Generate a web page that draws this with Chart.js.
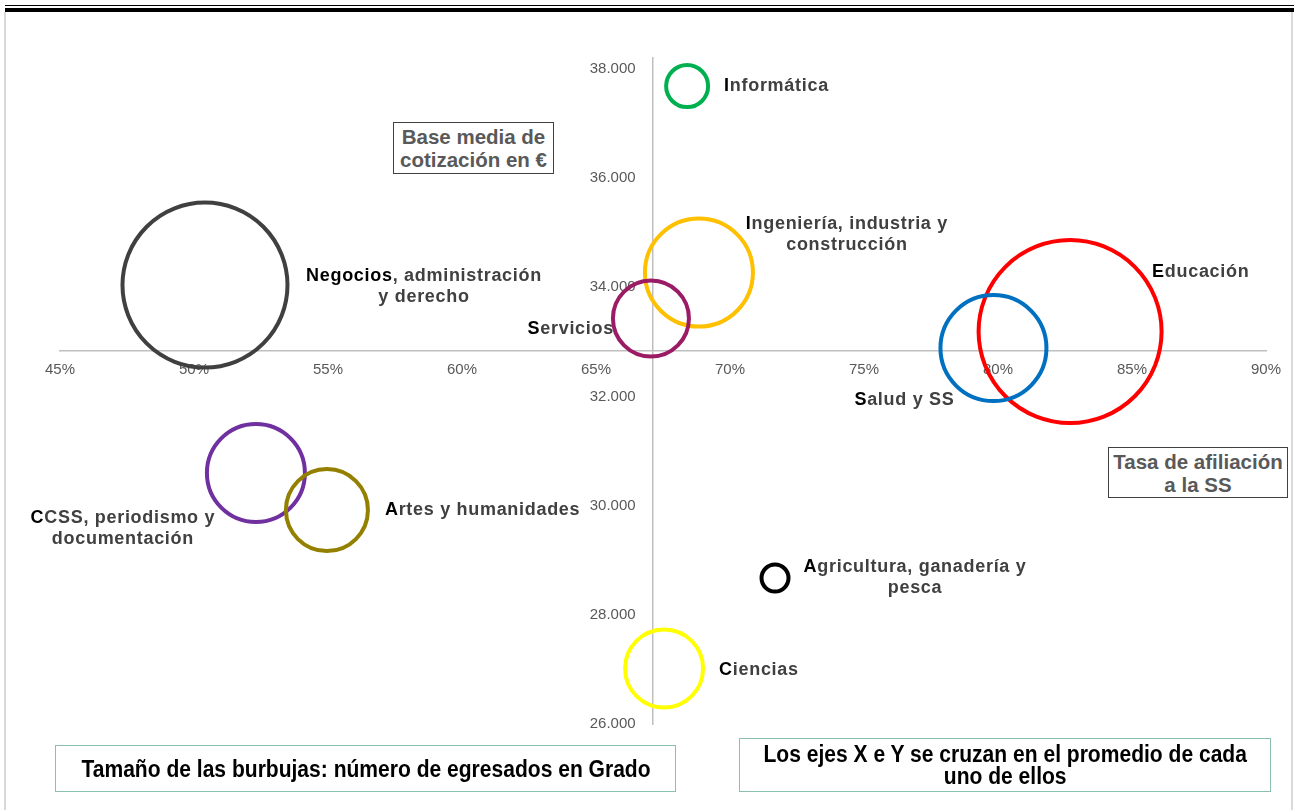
<!DOCTYPE html>
<html lang="es">
<head>
<meta charset="utf-8">
<script src="https://cdn.jsdelivr.net/npm/chart.js@4.4.1/dist/chart.umd.min.js"></script>
<style>
  html, body { margin: 0; padding: 0; background: #fff; }
  #wrap { position: relative; width: 1294px; height: 810px; overflow: hidden; }
  #grafico { position: absolute; left: 0; top: 0; }
  .linea { position: absolute; background: #000; }
  .marco { position: absolute; top: 12px; bottom: 0; width: 2px; background: #d9d9d9; }
  .caja {
    position: absolute; box-sizing: border-box;
    display: flex; align-items: center; justify-content: center; text-align: center;
    font-family: "Liberation Sans", Arial, sans-serif; font-weight: bold;
  }
  .titulo { border: 1px solid #404040; color: #595959; font-size: 20.5px; line-height: 23px; background: #fff; }
  .nota { border: 1px solid #8bbfae; color: #000; font-size: 23px; line-height: 22px; }
  .nota span { display: inline-block; transform: scaleX(0.915); white-space: nowrap; }
</style>
</head>
<body>
<div id="wrap">
  <div class="linea" style="left:5px;top:5px;width:1289px;height:1px"></div>
  <div class="linea" style="left:5px;top:8px;width:1289px;height:4px"></div>
  <div class="marco" style="left:4px"></div>
  <div class="marco" style="left:1291px"></div>
  <canvas id="grafico" width="1294" height="810"></canvas>
  <div class="caja titulo" style="left:393px;top:122px;width:161px;height:52px">Base media de<br>cotización en €</div>
  <div class="caja titulo" style="left:1108px;top:447px;width:180px;height:51px">Tasa de afiliación<br>a la SS</div>
  <div class="caja nota" style="left:55px;top:745px;width:621px;height:47px"><span>Tamaño de las burbujas: número de egresados en Grado</span></div>
  <div class="caja nota" style="left:739px;top:738px;width:532px;height:54px"><span>Los ejes X e Y se cruzan en el promedio de cada<br>uno de ellos</span></div>
</div>
<script>
// datos
const ramas = ['Informática', 'Ingeniería, industria y construcción', 'Servicios',
  'Negocios, administración y derecho', 'Educación', 'Salud y SS',
  'CCSS, periodismo y documentación', 'Artes y humanidades',
  'Agricultura, ganadería y pesca', 'Ciencias'];
const tasaAfiliacion = [68.4, 68.84, 67.05, 50.41, 82.69, 79.83, 52.31, 54.96, 71.68, 67.54];
const baseMedia = [37685, 34269, 33427, 34040, 33189, 32886, 30597, 29919, 28674, 27016];
const tamanoBurbuja = [21, 54, 38, 82.5, 91.5, 53, 49, 41, 13.5, 39];
const promedioX = 67.1;
const promedioY = 32830;
const ticksX = [45, 50, 55, 60, 65, 70, 75, 80, 85, 90];
const ticksY = [26000, 28000, 30000, 32000, 34000, 36000, 38000];

const colores = ['#00b050', '#ffc000', '#9b1c64', '#404040', '#ff0000', '#0070c0',
  '#7030a0', '#948000', '#000000', '#ffff00'];

// textos de las etiquetas (neg = letras iniciales en negro)
const etiquetas = [
  { lineas: ['Informática'], neg: 1, dx: 37, dy: 0, align: 'left' },
  { lineas: ['Ingeniería, industria y', 'construcción'], neg: 1, dx: 148, dy: -38, align: 'center' },
  { lineas: ['Servicios'], neg: 1, dx: -37, dy: 10, align: 'right' },
  { lineas: ['Negocios, administración', 'y derecho'], neg: 8, dx: 219, dy: 1, align: 'center' },
  { lineas: ['Educación'], neg: 1, dx: 82, dy: -60, align: 'left' },
  { lineas: ['Salud y SS'], neg: 1, dx: -89, dy: 52, align: 'center' },
  { lineas: ['CCSS, periodismo y', 'documentación'], neg: 1, dx: -133, dy: 55, align: 'center' },
  { lineas: ['Artes y humanidades'], neg: 1, dx: 58, dy: 0, align: 'left' },
  { lineas: ['Agricultura, ganadería y', 'pesca'], neg: 1, dx: 140, dy: 0, align: 'center' },
  { lineas: ['Ciencias'], neg: 1, dx: 55, dy: 1, align: 'left' }
];

const miles = v => String(v).replace(/\B(?=(\d{3})+(?!\d))/g, '.');

const pluginEtiquetas = {
  id: 'etiquetas',
  afterDatasetsDraw(chart) {
    const ctx = chart.ctx;
    const puntos = chart.getDatasetMeta(0).data;
    ctx.save();
    ctx.font = 'bold 18px "Liberation Sans", Arial, sans-serif';
    ctx.letterSpacing = '0.7px';
    ctx.textBaseline = 'middle';
    ctx.textAlign = 'left';
    puntos.forEach((p, i) => {
      const et = etiquetas[i];
      const alto = 21;
      const y0 = p.y + et.dy - (et.lineas.length - 1) * alto / 2;
      et.lineas.forEach((txt, j) => {
        const w = ctx.measureText(txt).width;
        let x = p.x + et.dx;
        if (et.align === 'center') x -= w / 2;
        if (et.align === 'right') x -= w;
        const y = y0 + j * alto;
        if (j === 0) {
          const a = txt.slice(0, et.neg), b = txt.slice(et.neg);
          ctx.fillStyle = '#000';
          ctx.fillText(a, x, y);
          ctx.fillStyle = '#404040';
          ctx.fillText(b, x + ctx.measureText(a).width, y);
        } else {
          ctx.fillStyle = '#404040';
          ctx.fillText(txt, x, y);
        }
      });
    });
    ctx.restore();
  }
};

new Chart(document.getElementById('grafico'), {
  type: 'bubble',
  data: {
    datasets: [{
      data: ramas.map((r, i) => ({ x: tasaAfiliacion[i], y: baseMedia[i], r: tamanoBurbuja[i] })),
      backgroundColor: 'rgba(0,0,0,0)',
      borderColor: colores,
      borderWidth: 4,
      hoverBorderWidth: 4,
      clip: false
    }]
  },
  options: {
    responsive: false,
    animation: false,
    devicePixelRatio: 1,
    layout: { autoPadding: false, padding: { left: 60, right: 28, top: 58, bottom: 86 } },
    plugins: { legend: { display: false }, tooltip: { enabled: false } },
    scales: {
      x: {
        type: 'linear',
        min: 45, max: 90,
        position: { y: promedioY },
        afterFit: s => { s.height = 0; },
        afterBuildTicks: s => { s.ticks = ticksX.map(v => ({ value: v })); },
        grid: { display: false, drawTicks: false },
        border: { display: true, color: '#bfbfbf', width: 1.5 },
        ticks: {
          padding: 10,
          color: '#595959',
          font: { family: '"Liberation Sans", Arial, sans-serif', size: 15 },
          callback: v => v + '%'
        }
      },
      y: {
        type: 'linear',
        min: 26000, max: 38200,
        position: { x: promedioX },
        afterFit: s => { s.width = 0; },
        afterBuildTicks: s => { s.ticks = ticksY.map(v => ({ value: v })); },
        grid: { display: false, drawTicks: false },
        border: { display: true, color: '#bfbfbf', width: 1.5 },
        ticks: {
          color: '#595959',
          font: { family: '"Liberation Sans", Arial, sans-serif', size: 15 },
          // con el eje en posición de valor, Chart.js no aplica el padding: se separa con espacios
          callback: v => miles(v) + '    '
        }
      }
    }
  },
  plugins: [pluginEtiquetas]
});
</script>
</body>
</html>
